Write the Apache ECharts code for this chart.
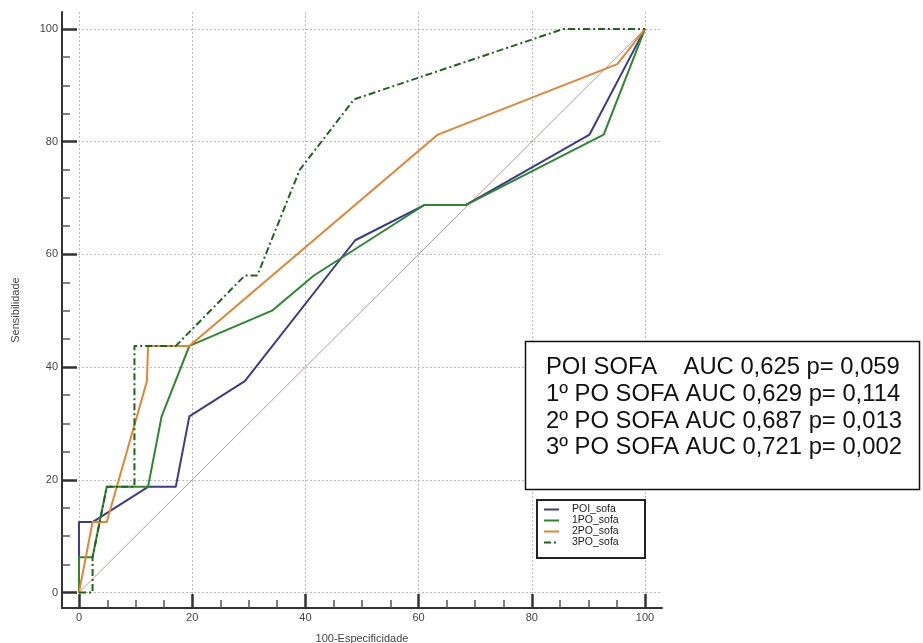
<!DOCTYPE html>
<html>
<head>
<meta charset="utf-8">
<script src="https://cdn.jsdelivr.net/npm/echarts@6/dist/echarts.min.js"></script>
<style>
  html, body { margin: 0; padding: 0; background: #fff; }
  #main { width: 923px; height: 643px; }
</style>
</head>
<body>
<div id="main"></div>
<script>
// ROC curves (x = 100-Especificidade, y = Sensibilidade)
const seriesNames = ['POI_sofa', '1PO_sofa', '2PO_sofa', '3PO_sofa'];

const poiX = [0, 0, 2.4, 12.2, 17.1, 19.5, 29.3, 48.8, 61.0, 68.3, 90.2, 100];
const poiY = [0, 12.5, 12.5, 18.75, 18.75, 31.25, 37.5, 62.5, 68.75, 68.75, 81.25, 100];

const po1X = [0, 0, 2.4, 4.9, 12.2, 14.6, 19.5, 34.1, 41.5, 61.0, 68.3, 92.7, 100];
const po1Y = [0, 6.25, 6.25, 18.75, 18.75, 31.25, 43.75, 50, 56.25, 68.75, 68.75, 81.25, 100];

const po2X = [0, 2.4, 4.9, 12.0, 12.2, 19.5, 63.4, 95.1, 100];
const po2Y = [0, 12.5, 12.5, 37.5, 43.75, 43.75, 81.25, 93.75, 100];

const po3X = [0, 2.4, 2.4, 4.9, 9.8, 9.8, 17.1, 29.3, 31.5, 39.0, 48.6, 85.6, 100];
const po3Y = [0, 0, 6.25, 18.75, 18.75, 43.75, 43.75, 56.25, 56.25, 75, 87.5, 100, 100];

const refX = [0, 100];
const refY = [0, 100];

const majorTicks = [0, 20, 40, 60, 80, 100];
const minorTicks = [5, 10, 15, 25, 30, 35, 45, 50, 55, 65, 70, 75, 85, 90, 95];

const aucLines = [
  'POI SOFA    AUC 0,625 p= 0,059',
  '1º PO SOFA AUC 0,629 p= 0,114',
  '2º PO SOFA AUC 0,687 p= 0,013',
  '3º PO SOFA AUC 0,721 p= 0,002'
];

const pairs = (xs, ys) => xs.map((x, i) => [x, ys[i]]);

const FONT = 'Liberation Sans, Arial, sans-serif';

// main axis: line, labels, grid lines
function mainAxis(min, name, isY) {
  return {
    type: 'value',
    min: min,
    max: 103,
    name: name,
    nameLocation: 'middle',
    nameGap: isY ? 41 : 25,
    nameTextStyle: { fontFamily: FONT, fontSize: 11, color: '#444' },
    axisLine: { show: true, onZero: false, lineStyle: { color: '#333', width: 2 } },
    axisTick: { show: false },
    axisLabel: {
      show: true,
      margin: 4,
      fontFamily: FONT,
      fontSize: 11,
      color: '#444',
      showMinLabel: false,
      showMaxLabel: false,
      formatter: v => (Math.abs(v % 20) < 1e-6 ? String(v) : '')
    },
    splitLine: {
      show: true,
      showMinLine: false,
      showMaxLine: false,
      lineStyle: { color: '#bbb', width: 1, type: [2, 2] }
    }
  };
}

// overlay axis that only draws ticks
function tickAxis(min, values, len, width, color, pos) {
  return {
    type: 'value',
    min: min,
    max: 103,
    position: pos,
    axisLine: { show: false, onZero: false },
    axisLabel: { show: false },
    splitLine: { show: false },
    axisTick: {
      show: true,
      inside: true,
      length: len,
      customValues: values,
      lineStyle: { color: color, width: width }
    }
  };
}

const chart = echarts.init(document.getElementById('main'));

chart.setOption({
  animation: false,
  backgroundColor: '#fff',
  grid: { left: 62, right: 261, top: 12, bottom: 35, outerBoundsMode: 'none' },
  xAxis: [
    mainAxis(-3, '100-Especificidade', false),
    tickAxis(-3, majorTicks, 14, 2.5, '#333', 'bottom'),
    tickAxis(-3, minorTicks, 8, 1.5, '#555', 'bottom')
  ],
  yAxis: [
    mainAxis(-2.75, 'Sensibilidade', true),
    tickAxis(-2.75, majorTicks, 15, 2.5, '#333', 'left'),
    tickAxis(-2.75, minorTicks, 8, 1.5, '#555', 'left')
  ],
  legend: {
    data: seriesNames,
    orient: 'vertical',
    left: 543,
    top: 504,
    padding: 0,
    itemGap: 0,
    itemWidth: 15,
    itemHeight: 11,
    z: 110,
    itemStyle: { opacity: 0 },
    textStyle: { fontFamily: FONT, fontSize: 10.5, lineHeight: 11, color: '#222', padding: [0, 0, 0, 8] }
  },
  series: [
    {
      name: 'ref', type: 'line', data: pairs(refX, refY), symbol: 'none', silent: true,
      lineStyle: { color: '#c09494', width: 1 }
    },
    {
      name: seriesNames[0], type: 'line', data: pairs(poiX, poiY), symbol: 'none',
      lineStyle: { color: '#3c3c8c', width: 2 }, itemStyle: { color: '#3c3c8c' }
    },
    {
      name: seriesNames[1], type: 'line', data: pairs(po1X, po1Y), symbol: 'none',
      lineStyle: { color: '#2a892a', width: 2 }, itemStyle: { color: '#2a892a' }
    },
    {
      name: seriesNames[2], type: 'line', data: pairs(po2X, po2Y), symbol: 'none',
      lineStyle: { color: '#e8832f', width: 2 }, itemStyle: { color: '#e8832f' }
    },
    {
      name: seriesNames[3], type: 'line', data: pairs(po3X, po3Y), symbol: 'none',
      lineStyle: { color: '#1e661e', width: 2, type: [7, 3, 2, 3] }, itemStyle: { color: '#1e661e' }
    }
  ],
  graphic: [
    {
      type: 'rect', z: 100,
      shape: { x: 525.5, y: 341.5, width: 394, height: 148 },
      style: { fill: '#fff', stroke: '#111', lineWidth: 1.5 }
    },
    {
      type: 'text', z: 101, x: 546, y: 354.5,
      style: {
        text: aucLines.join('\n'),
        font: '23.8px ' + FONT,
        lineHeight: 26.6,
        fill: '#111',
        textVerticalAlign: 'top'
      }
    },
    {
      type: 'rect', z: 100,
      shape: { x: 537, y: 500, width: 108, height: 58 },
      style: { fill: '#fff', stroke: '#222', lineWidth: 2 }
    }
  ]
});
</script>
</body>
</html>
